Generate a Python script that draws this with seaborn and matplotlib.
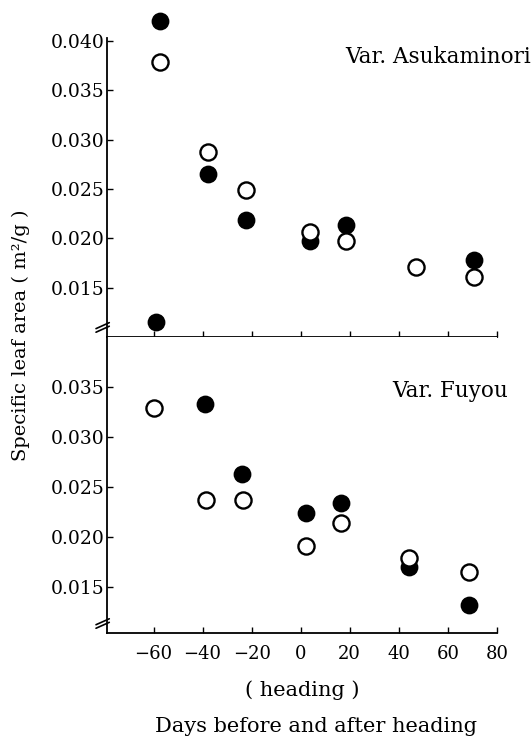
import numpy as np
import pandas as pd
import seaborn as sns
import matplotlib.pyplot as plt

# Var. Asukaminori (top panel)
asu_filled_days = [-57.5, -58.8, -37.6, -22.4, 4, 18.6, 70.6]
asu_filled_sla = [0.0420, 0.0115, 0.0265, 0.0219, 0.0197, 0.0214, 0.0178]
asu_open_days = [-57.5, -37.6, -22.4, 4, 18.6, 47, 70.6]
asu_open_sla = [0.0379, 0.0287, 0.0249, 0.0206, 0.0197, 0.0171, 0.0161]

# Var. Fuyou (bottom panel)
fuy_filled_days = [-39, -24, 2, 16.6, 44, 68.6]
fuy_filled_sla = [0.0333, 0.0263, 0.0224, 0.0234, 0.0170, 0.0132]
fuy_open_days = [-60, -38.5, -23.4, 2, 16.6, 44, 68.6]
fuy_open_sla = [0.0329, 0.0237, 0.0237, 0.0191, 0.0214, 0.0179, 0.0165]

x_ticks = [-60, -40, -20, 0, 20, 40, 60, 80]
x_labels = ["\u221260", "\u221240", "\u221220", "0", "20", "40", "60", "80"]
top_yticks = [0.015, 0.020, 0.025, 0.030, 0.035, 0.040]
bot_yticks = [0.015, 0.020, 0.025, 0.030, 0.035]

sns.set_style("ticks")
plt.rcParams['font.family'] = ['DejaVu Serif']
plt.rcParams.update({'text.color': 'black', 'axes.labelcolor': 'black',
                     'xtick.color': 'black', 'ytick.color': 'black',
                     'axes.edgecolor': 'black'})

fig = plt.figure(figsize=(5.32, 7.40), dpi=100)
ax_top = fig.add_axes([0.201, 0.5446, 0.733, 0.404])
ax_bot = fig.add_axes([0.201, 0.1446, 0.733, 0.400])

panels = [
    (ax_top, asu_filled_days, asu_filled_sla, asu_open_days, asu_open_sla, (0.0100, 0.0403), top_yticks),
    (ax_bot, fuy_filled_days, fuy_filled_sla, fuy_open_days, fuy_open_sla, (0.0104, 0.0400), bot_yticks),
]

for ax, fd, fs, od, os_, ylim, yt in panels:
    filled = pd.DataFrame({'days': fd, 'sla': fs})
    opened = pd.DataFrame({'days': od, 'sla': os_})
    sns.scatterplot(data=filled, x='days', y='sla', ax=ax, s=135, color='black',
                    edgecolor='black', linewidth=1.2, clip_on=False, zorder=3)
    sns.scatterplot(data=opened, x='days', y='sla', ax=ax, s=135, color='white',
                    edgecolor='black', linewidth=1.7, clip_on=False, zorder=4)
    ax.set_xlim(-79, 80)
    ax.set_ylim(*ylim)
    ax.set_yticks(yt)
    ax.set_yticklabels([f"{v:.3f}" for v in yt])
    ax.set_xticks(x_ticks)
    ax.set_xlabel('')
    ax.set_ylabel('')
    for side in ['top', 'right']:
        ax.spines[side].set_visible(False)
    for side in ['left', 'bottom']:
        ax.spines[side].set_linewidth(1.3)
    ax.tick_params(axis='y', direction='in', length=4, width=1, pad=2, labelsize=13.5)
    ax.tick_params(axis='x', direction='in', length=4, width=1, pad=9, labelsize=13)
    # axis break marks at the foot of the y axis
    for off in (0.0, 0.012):
        ax.plot([-0.028, 0.006], [0.016 + off, 0.036 + off], transform=ax.transAxes,
                color='black', lw=1.2, clip_on=False)

ax_top.set_xticklabels([])
ax_bot.set_xticklabels(x_labels)

fig.text(0.998, 1 - 57 / 740, "Var. Asukaminori", ha='right', va='center', fontsize=15.5)
fig.text(0.955, 1 - 391 / 740, "Var. Fuyou", ha='right', va='center', fontsize=15.5)
fig.text(21 / 532, 1 - 335 / 740, "Specific leaf area ( m\u00b2/g )", rotation=90,
         ha='center', va='center', fontsize=14)
fig.text(302 / 532, 1 - 690 / 740, "( heading )", ha='center', va='center', fontsize=15)
fig.text(316 / 532, 1 - 727 / 740, "Days before and after heading", ha='center',
         va='center', fontsize=15)

fig.savefig('out.png', dpi=100)
